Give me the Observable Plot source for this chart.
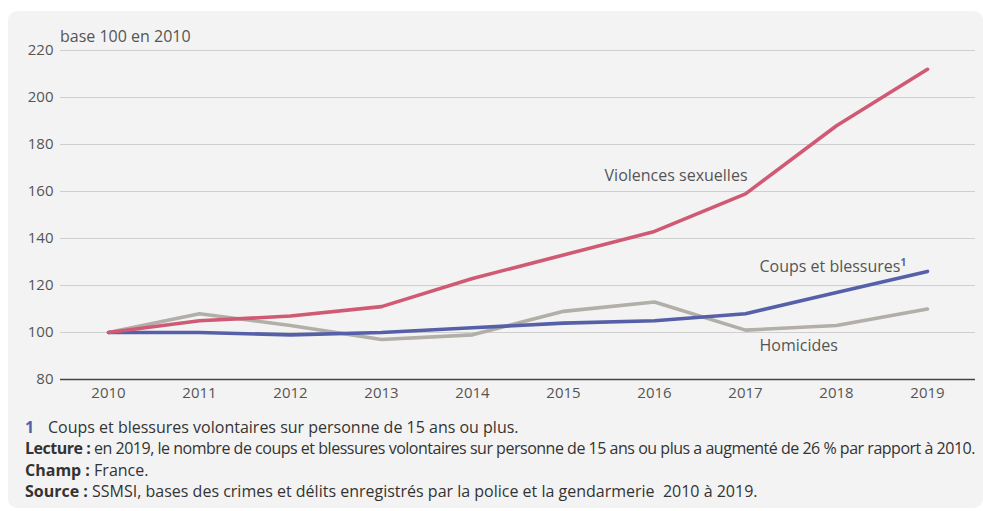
<!DOCTYPE html>
<html><head><meta charset="utf-8">
<script src="https://cdn.jsdelivr.net/npm/d3@7"></script>
<script src="https://cdn.jsdelivr.net/npm/@observablehq/plot@0.6"></script>
<style>
html,body{margin:0;padding:0;background:#fff;}
body{width:983px;height:511px;position:relative;overflow:hidden;font-family:"Open Sans",sans-serif;}
#panel{position:absolute;left:8px;top:11px;width:975px;height:497px;background:#f3f3f3;border-radius:9px;}
#chart{position:absolute;left:0;top:0;}
#notes{position:absolute;left:25px;top:417px;font-size:16px;line-height:21.3px;color:#333;white-space:nowrap;}
#notes b{font-weight:700;}
#notes div span.n{display:inline-block;width:23px;color:#5560a8;font-weight:700;}
#ylab{position:absolute;left:60px;top:25px;font-size:16px;color:#555;}
</style></head>
<body>
<div id="panel"></div>
<div id="chart"></div>
<div id="ylab">base 100 en 2010</div>
<div id="notes">
<div><span class="n">1</span>Coups et blessures volontaires sur personne de 15 ans ou plus.</div>
<div id="lecture"><b>Lecture :</b> en 2019, le nombre de coups et blessures volontaires sur personne de 15 ans ou plus a augmenté de 26 % par rapport à 2010.</div>
<div><b>Champ :</b> France.</div>
<div><b>Source :</b> SSMSI, bases des crimes et délits enregistrés par la police et la gendarmerie &nbsp;2010 à 2019.</div>
</div>
<script>
const years = ["2010","2011","2012","2013","2014","2015","2016","2017","2018","2019"];
const violencesSexuelles = [100,105,107,111,123,133,143,159,188,212];
const coupsBlessures = [100,100,99,100,102,104,105,108,117,126];
const homicides = [100,108,103,97,99,109,113,101,103,110];
const yTicks = [80,100,120,140,160,180,200,220];

const seriesNames = ["Homicides","Coups et blessures","Violences sexuelles"];
const seriesValues = [homicides, coupsBlessures, violencesSexuelles];
const seriesColors = ["#b2aea8","#5560a8","#d05a73"];

const labelNames = ["Violences sexuelles","Coups et blessures","Homicides"];
const labelYears = ["2017","2017","2017"];
const labelValues = [166.8,128,94.5];
const labelAnchors = ["end","start","start"];

const data = [];
seriesNames.forEach((s,i)=>years.forEach((y,j)=>data.push({serie:s,year:y,value:seriesValues[i][j]})));
const labels = labelNames.map((n,i)=>({name:n,year:labelYears[i],value:labelValues[i],anchor:labelAnchors[i]}));

const plot = Plot.plot({
  width:983, height:410,
  marginLeft:60, marginRight:8, marginTop:50, marginBottom:31,
  style:{background:"transparent",fontFamily:"'Open Sans',sans-serif",fontSize:"15px",color:"#555"},
  x:{type:"point",domain:years,padding:0.5,label:null,tickSize:0,tickPadding:8},
  y:{domain:[80,220],ticks:yTicks,label:null,tickSize:0,tickPadding:7},
  color:{domain:seriesNames,range:seriesColors},
  marks:[
    Plot.ruleY(yTicks.filter(d=>d>80),{stroke:"#cfcfcf",strokeWidth:1.2}),
    Plot.ruleY([80],{stroke:"#444",strokeWidth:1.5}),
    Plot.lineY(data,{x:"year",y:"value",z:"serie",stroke:"serie",strokeWidth:3.6,strokeLinejoin:"round",strokeLinecap:"round"}),
    Plot.text(labels.filter(d=>d.anchor==="end"),{x:"year",y:"value",text:"name",textAnchor:"end",dx:2,fill:"#555",fontSize:16}),
    Plot.text(labels.filter(d=>d.anchor==="start"),{x:"year",y:"value",text:"name",textAnchor:"start",dx:14,fill:"#555",fontSize:16})
  ]
});
document.getElementById("chart").appendChild(plot);
d3.select(plot).selectAll("text").filter(function(){return this.textContent==="Coups et blessures";})
  .append("tspan").attr("fill","#5560a8").attr("font-weight","700").attr("font-size","10px").attr("dy","-0.6em").text("1");

// condense the long "Lecture" line so it fits the panel, as in the reference
const lec = document.getElementById("lecture");
lec.style.display = "inline-block";
const w = lec.getBoundingClientRect().width;
const target = 950;
const n = lec.textContent.length;
if (w > target) lec.style.letterSpacing = ((target - w) / n) + "px";
lec.style.display = "block";
</script>
</body></html>
